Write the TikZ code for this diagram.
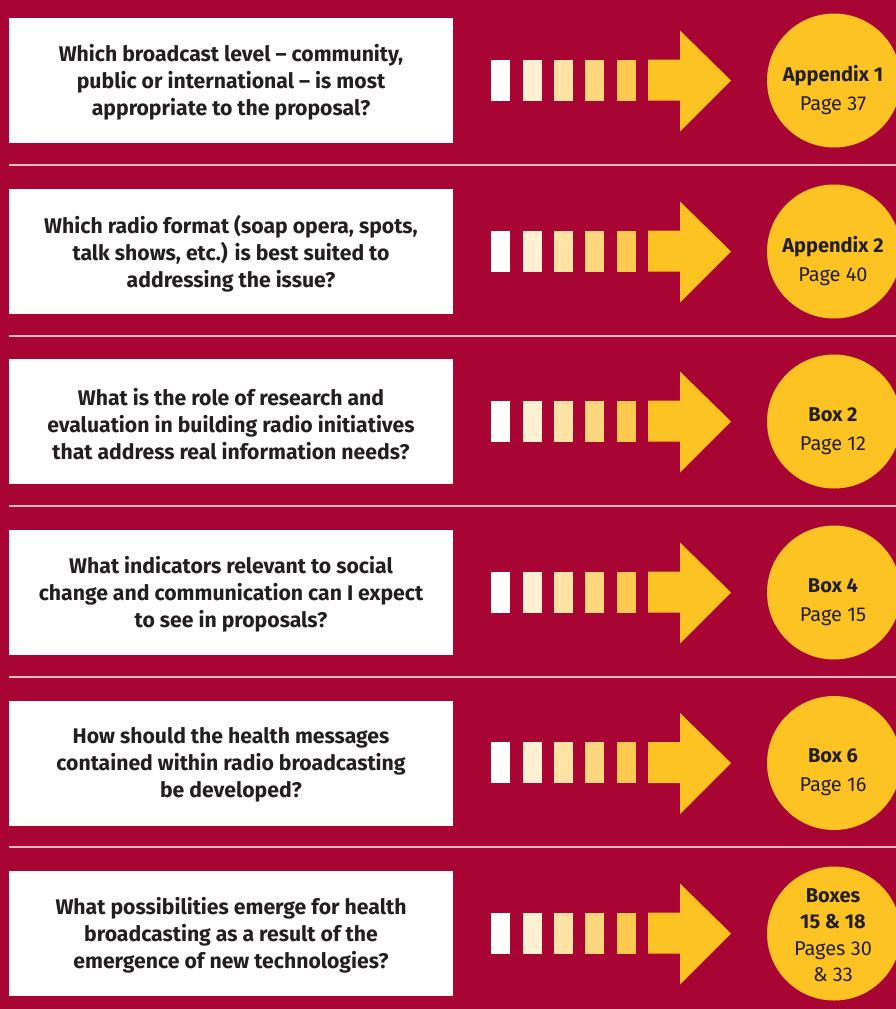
\documentclass[tikz,border=0pt]{standalone}
\usepackage{fontspec}
\setmainfont{Fira Sans}
\definecolor{bg}{HTML}{A80535}
\definecolor{yel}{HTML}{FDC323}
\definecolor{barA}{HTML}{FFFFFF}
\definecolor{barB}{HTML}{FEF0D3}
\definecolor{barC}{HTML}{FEE3A4}
\definecolor{barD}{HTML}{FDD77E}
\definecolor{barE}{HTML}{FCCA50}
\definecolor{ink}{HTML}{231F20}
\definecolor{sepc}{HTML}{E8B8C4}
\tikzset{
  qbox/.style={fill=white, minimum width=444pt, minimum height=125pt, inner sep=0pt},
  qtext/.style={align=center, text=ink, inner sep=0pt, font=\fontsize{21.2}{27}\selectfont\bfseries},
  disc/.style={circle, fill=yel, minimum size=134pt, inner sep=0pt},
  disctext/.style={align=center, text=ink, font=\fontsize{20}{29}\selectfont},
  disctextb/.style={align=center, text=ink, font=\fontsize{20}{26.5}\selectfont},
  sepline/.style={draw=sepc, line width=1.1pt},
}
\newcommand\qrow[3]{% #1 name, #2 center y, #3 question
  \node[qbox] (q#1) at (231,#2) {};
  \node[qtext] (qt#1) at (231,#2+2.2) {#3};
  \fill[barA] (491,#2-21) rectangle (510,#2+20);
  \fill[barB] (523,#2-21) rectangle (542,#2+20);
  \fill[barC] (554,#2-21) rectangle (573,#2+20);
  \fill[barD] (585,#2-21) rectangle (604,#2+20);
  \fill[barE] (617,#2-21) rectangle (636,#2+20);
  \fill[yel] (648,#2-21) -- (680,#2-21) -- (680,#2-50) -- (731,#2) -- (680,#2+51) -- (680,#2+20) -- (648,#2+20) -- cycle;
  \node[disc] (c#1) at (834,#2) {};
}
\begin{document}
\begin{tikzpicture}[x=1pt,y=-1pt]
\fill[bg] (0,0) rectangle (896,1009);
\useasboundingbox (0,0) rectangle (896,1009);
\qrow{1}{80.5}{Which broadcast level -- community,\\public or international -- is most\\appropriate to the proposal?}
\qrow{2}{251.5}{Which radio format (soap opera, spots,\\talk shows, etc.) is best suited to\\addressing the issue?}
\qrow{3}{421.5}{What is the role of research and\\evaluation in building radio initiatives\\that address real information needs?}
\qrow{4}{592.5}{What indicators relevant to social\\change and communication can I expect\\to see in proposals?}
\qrow{5}{763}{How should the health messages\\contained within radio broadcasting\\be developed?}
\qrow{6}{933.5}{What possibilities emerge for health\\broadcasting as a result of the\\emergence of new technologies?}
\node[disctext] (t1) at (833,90) {\textbf{Appendix 1}\\Page 37};
\node[disctext] (t2) at (833,261) {\textbf{Appendix 2}\\Page 40};
\node[disctext] (t3) at (833,431) {\textbf{Box 2}\\Page 12};
\node[disctext] (t4) at (833,602) {\textbf{Box 4}\\Page 15};
\node[disctext] (t5) at (833,772.5) {\textbf{Box 6}\\Page 16};
\node[disctextb] (t6) at (833,935) {\textbf{Boxes}\\\textbf{15 \& 18}\\Pages 30\\\& 33};
\foreach \y in {165,336,506,677,847} \draw[sepline] (9,\y) -- (896,\y);
\end{tikzpicture}
\end{document}
